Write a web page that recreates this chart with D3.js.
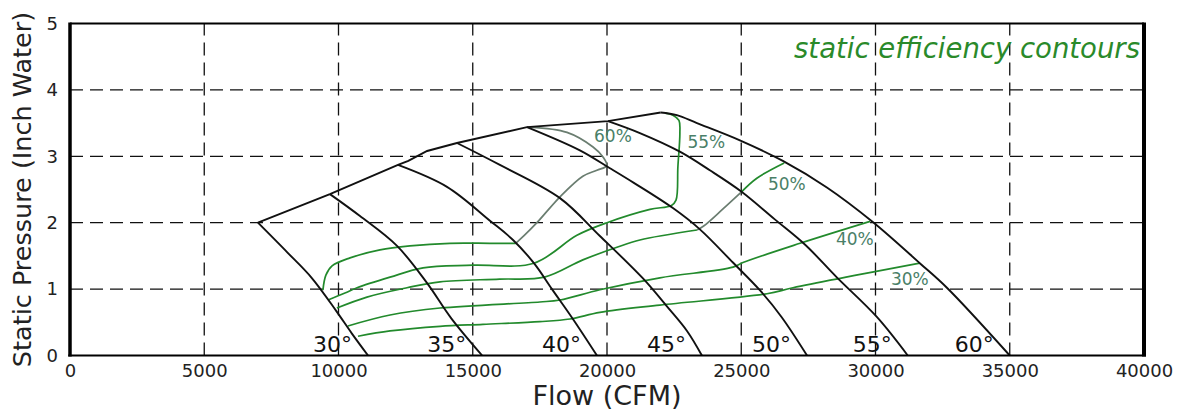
<!DOCTYPE html>
<html>
<head>
<meta charset="utf-8">
<script src="https://cdn.jsdelivr.net/npm/d3@7"></script>
<style>
  body { margin: 0; background: #fff; }
  svg { display: block; font-family: "DejaVu Sans", sans-serif; }
</style>
</head>
<body>
<svg id="chart" width="1182" height="420"></svg>
<script>
// Axis ticks
const flowTicks = [0, 5000, 10000, 15000, 20000, 25000, 30000, 35000, 40000];
const pressureTicks = [0, 1, 2, 3, 4, 5];

// Blade-angle fan curves: [flow (CFM), static pressure (in. water)]
const bladeAngles = ["30°", "35°", "40°", "45°", "50°", "55°", "60°"];
const blade30 = [[7000, 2.0], [8100, 1.55], [9000, 1.17], [9900, 0.68], [10500, 0.33], [11100, 0]];
const blade35 = [[9680, 2.43], [10800, 2.1], [12180, 1.65], [13300, 1.09], [14200, 0.56], [15350, 0]];
const blade40 = [[12215, 2.87], [14040, 2.54], [15640, 2.03], [16500, 1.74], [17300, 1.38], [17950, 1.0], [18730, 0.55], [19625, 0]];
const blade45 = [[14412, 3.2], [16010, 2.87], [18248, 2.37], [19735, 1.8], [21340, 1.16], [22232, 0.74], [22980, 0.37], [23535, 0]];
const blade50 = [[17020, 3.44], [18990, 3.09], [20110, 2.82], [21000, 2.6], [22455, 2.22], [23460, 1.9], [24690, 1.4], [25700, 0.98], [26500, 0.58], [27450, 0]];
const blade55 = [[20035, 3.53], [21225, 3.35], [22714, 3.07], [23830, 2.79], [25000, 2.47], [26250, 2.05], [27400, 1.66], [28550, 1.18], [30050, 0.58], [31200, 0]];
const blade60 = [[22000, 3.66], [22600, 3.62], [23350, 3.50], [24950, 3.24], [26550, 2.93], [28190, 2.53], [29900, 2.01], [31650, 1.39], [32660, 1.02], [35000, 0]];

// Stall / upper operating limit joining the tops of the fan curves
const surgeLine = [[7000, 2.0], [9680, 2.43], [12215, 2.87], [12600, 2.93], [13300, 3.08], [14412, 3.2], [17020, 3.44], [20035, 3.53], [22000, 3.66]];

// Static efficiency contours
const effLabels = ["30%", "40%", "50%", "55%", "60%"];
const eff30 = [[10725, 0.29], [11920, 0.37], [13780, 0.44], [15380, 0.47], [17500, 0.51], [18620, 0.55], [19735, 0.65], [21970, 0.76], [25960, 0.93], [26925, 1.02], [31650, 1.39]];
const eff40 = [[10350, 0.445], [11920, 0.61], [13780, 0.715], [17500, 0.806], [18250, 0.836], [19735, 0.99], [21970, 1.17], [24690, 1.33], [25065, 1.40], [27190, 1.69], [29800, 2.02]];
const eff50Lower = [[9940, 0.715], [11060, 0.88], [12550, 1.02], [13780, 1.11], [16000, 1.15], [17670, 1.18], [19100, 1.44], [20370, 1.63], [21225, 1.74], [23350, 1.89]];
const eff50Rise = [[23350, 1.89], [23600, 1.95], [24300, 2.2], [25000, 2.46]];
const eff50Upper = [[25000, 2.46], [25580, 2.67], [26600, 2.90]];
const eff55 = [[9610, 0.836], [10240, 0.94], [10690, 1.02], [11920, 1.18], [13150, 1.32], [15010, 1.36], [17280, 1.39], [18880, 1.81], [20000, 2.0], [21600, 2.2], [22400, 2.26], [22570, 2.34], [22640, 2.84], [22714, 3.35], [22680, 3.54], [22455, 3.62], [22160, 3.65]];
const eff60Lower = [[9420, 0.986], [9530, 1.21], [9760, 1.35], [10430, 1.47], [11545, 1.59], [12660, 1.65], [14150, 1.69], [15640, 1.69], [16600, 1.69]];
const eff60Upper = [[16600, 1.69], [16900, 1.80], [17390, 2.0], [18250, 2.39], [19100, 2.70], [19625, 2.79], [19990, 2.86], [19850, 2.99], [19480, 3.14], [18510, 3.36], [17130, 3.44]];

const svg = d3.select("#chart");
const W = 1182, H = 420;
const margin = { left: 70, right: 38, top: 23.5, bottom: 64.5 };

const x = d3.scaleLinear().domain([0, 40000]).range([margin.left, W - margin.right]);
const y = d3.scaleLinear().domain([0, 5]).range([H - margin.bottom, margin.top]);

svg.append("rect").attr("width", W).attr("height", H).attr("fill", "#fff");

// Dashed grid
const grid = svg.append("g").attr("stroke", "#111").attr("stroke-width", 1.3).attr("stroke-dasharray", "13,7");
grid.selectAll("line.v").data(flowTicks.filter(d => d > 0 && d < 40000)).join("line")
  .attr("class", "v")
  .attr("x1", d => x(d)).attr("x2", d => x(d)).attr("y1", y(0)).attr("y2", y(5));
grid.selectAll("line.h").data(pressureTicks.filter(d => d > 0 && d < 5)).join("line")
  .attr("class", "h")
  .attr("x1", x(0)).attr("x2", x(40000)).attr("y1", d => y(d)).attr("y2", d => y(d));

const line = d3.line().x(d => x(d[0])).y(d => y(d[1])).curve(d3.curveCatmullRom.alpha(0.5));

// Efficiency contours
const green = "#228a2c", muted = "#6a7d70";
const mutedSegments = new Set([eff60Upper, eff50Rise]);
const effSegments = [eff30, eff40, eff50Lower, eff50Rise, eff50Upper, eff55, eff60Lower, eff60Upper];
svg.append("g").attr("fill", "none").attr("stroke-width", 1.7)
  .selectAll("path").data(effSegments).join("path")
  .attr("stroke", d => mutedSegments.has(d) ? muted : green)
  .attr("d", line);

// Fan curves and stall line
const blades = [blade30, blade35, blade40, blade45, blade50, blade55, blade60];
const curves = svg.append("g").attr("fill", "none").attr("stroke", "#111").attr("stroke-width", 1.9);
curves.selectAll("path.blade").data(blades).join("path").attr("class", "blade").attr("d", line);
curves.append("path").datum(surgeLine).attr("d", d3.line().x(d => x(d[0])).y(d => y(d[1])));

// Blade-angle labels, set just left of each curve's foot
svg.append("g").attr("font-size", 22).attr("fill", "#111").attr("text-anchor", "end")
  .selectAll("text").data(blades).join("text")
  .attr("x", d => x(d[d.length - 1][0]) - 16)
  .attr("y", y(0) - 4)
  .text((d, i) => bladeAngles[i]);

// Efficiency labels
const effLabelAt = [[31280, 1.06], [29230, 1.66], [26700, 2.49], [23700, 3.12], [20220, 3.21]];
svg.append("g").attr("font-size", 17).attr("fill", "#4a7f68").attr("text-anchor", "middle")
  .selectAll("text").data(effLabels).join("text")
  .attr("x", (d, i) => x(effLabelAt[i][0]))
  .attr("y", (d, i) => y(effLabelAt[i][1]))
  .text(d => d);

// Axes
const xAxis = svg.append("g").attr("transform", `translate(0,${y(0)})`)
  .call(d3.axisBottom(x).tickValues(flowTicks).tickFormat(d3.format("d")).tickSize(0).tickPadding(9));
const yAxis = svg.append("g").attr("transform", `translate(${x(0)},0)`)
  .call(d3.axisLeft(y).tickValues(pressureTicks).tickFormat(d3.format("d")).tickSize(0).tickPadding(12));
[xAxis, yAxis].forEach(a => {
  a.select(".domain").remove();
  a.selectAll("text").attr("font-size", 18).attr("font-family", "DejaVu Sans, sans-serif").attr("fill", "#222");
});

// Frame
const frame = svg.append("g").attr("stroke", "#000").attr("fill", "none");
frame.append("line").attr("x1", x(0)).attr("x2", x(40000)).attr("y1", y(5)).attr("y2", y(5)).attr("stroke-width", 2);
frame.append("line").attr("x1", x(0) - 1.75).attr("x2", x(40000) + 2).attr("y1", y(0)).attr("y2", y(0)).attr("stroke-width", 2.2);
frame.append("line").attr("x1", x(0)).attr("x2", x(0)).attr("y1", y(5) - 1).attr("y2", y(0) + 1).attr("stroke-width", 3.5);
frame.append("line").attr("x1", x(40000)).attr("x2", x(40000)).attr("y1", y(5) - 1).attr("y2", y(0) + 1).attr("stroke-width", 4);

// Axis titles
svg.append("text").attr("x", (x(0) + x(40000)) / 2).attr("y", 405)
  .attr("text-anchor", "middle").attr("font-size", 27).attr("fill", "#222").text("Flow (CFM)");
svg.append("text").attr("transform", `translate(31,${(y(0) + y(5)) / 2}) rotate(-90)`)
  .attr("text-anchor", "middle").attr("font-size", 25.5).attr("fill", "#222").text("Static Pressure (Inch Water)");

// Contour legend note
svg.append("text").attr("x", 1140).attr("y", 58).attr("text-anchor", "end")
  .attr("font-size", 27.5).attr("font-style", "italic").attr("fill", "#2a8a2a")
  .text("static efficiency contours");
</script>
</body>
</html>
